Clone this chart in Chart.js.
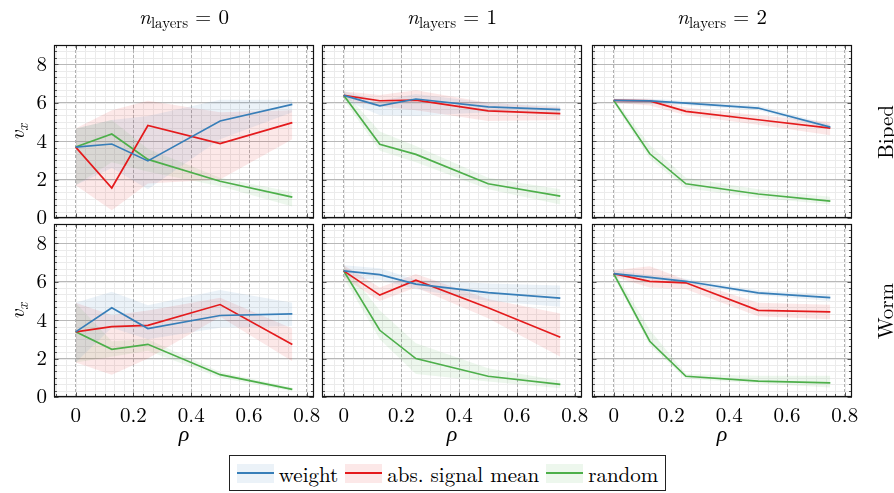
<!DOCTYPE html>
<html><head><meta charset="utf-8">
<script src="https://cdn.jsdelivr.net/npm/chart.js@4.4.0/dist/chart.umd.min.js"></script>
<style>
html,body{margin:0;padding:0;background:#fff;width:894px;height:493px;overflow:hidden;}
#wrap{position:relative;width:894px;height:493px;color:#000;}
canvas{position:absolute;}
.ctitle{position:absolute;top:2px;width:260px;text-align:center;font-size:21px;white-space:nowrap;line-height:26px;}
.ctitle sub{font-size:15px;vertical-align:-4px;line-height:0;font-style:normal;}
.rot{position:absolute;width:140px;height:26px;line-height:26px;text-align:center;font-size:21px;transform:rotate(-90deg);white-space:nowrap;}
.rot sub{font-size:15px;vertical-align:-4px;line-height:0;}
#legend{position:absolute;left:229px;top:455px;width:437px;height:36px;border:1px solid #222;box-sizing:border-box;display:flex;align-items:center;justify-content:center;font-size:21px;}
.sw{position:relative;width:37px;height:19px;margin-right:5px;}
.sw i{position:absolute;left:0;right:0;top:8px;height:2px;}
.ent{display:flex;align-items:center;margin-right:7px;white-space:nowrap;}
.ent:last-child{margin-right:0;}
</style></head>
<body><div id="wrap" style="font-family:'Latin Modern Roman','Liberation Serif',serif;"></div>
<script>
// ---------- data ----------
const rho = [0, 0.125, 0.25, 0.5, 0.75];
const xTicks = [0, 0.2, 0.4, 0.6, 0.8];
const yTicks = [0, 2, 4, 6, 8];
const seriesNames = ['weight', 'abs. signal mean', 'random'];
const seriesColors = ['#377eb8', '#e41a1c', '#4daf4a'];
const seriesFills = ['rgba(55,126,184,0.10)', 'rgba(228,26,28,0.10)', 'rgba(77,175,74,0.10)'];
const robotNames = ['Biped', 'Worm'];
const layerCounts = [0, 1, 2];

// Biped, n_layers = 0
const biped0Weight    = [3.69, 3.85, 2.97, 5.05, 5.91];
const biped0WeightLo  = [1.70, 2.60, 1.50, 4.10, 5.50];
const biped0WeightHi  = [4.65, 5.10, 5.30, 6.15, 6.15];
const biped0Abs       = [3.69, 1.56, 4.81, 3.87, 4.96];
const biped0AbsLo     = [1.70, 0.40, 1.80, 2.00, 4.10];
const biped0AbsHi     = [4.65, 5.60, 6.10, 5.50, 5.60];
const biped0Random    = [3.69, 4.37, 3.05, 1.91, 1.09];
const biped0RandomLo  = [1.70, 2.90, 2.40, 1.65, 0.60];
const biped0RandomHi  = [4.65, 5.10, 3.60, 2.10, 1.35];
// Biped, n_layers = 1
const biped1Weight    = [6.38, 5.83, 6.19, 5.78, 5.64];
const biped1WeightLo  = [6.15, 5.35, 5.30, 5.50, 5.45];
const biped1WeightHi  = [6.60, 6.10, 6.45, 6.00, 5.85];
const biped1Abs       = [6.38, 6.10, 6.13, 5.57, 5.43];
const biped1AbsLo     = [6.15, 5.80, 5.60, 5.05, 5.10];
const biped1AbsHi     = [6.60, 6.40, 6.65, 6.00, 5.75];
const biped1Random    = [6.38, 3.83, 3.31, 1.78, 1.14];
const biped1RandomLo  = [6.15, 3.50, 2.90, 1.50, 0.70];
const biped1RandomHi  = [6.60, 4.50, 3.75, 2.10, 1.50];
// Biped, n_layers = 2
const biped2Weight    = [6.12, 6.09, 5.98, 5.72, 4.73];
const biped2WeightLo  = [6.00, 5.95, 5.85, 5.60, 4.60];
const biped2WeightHi  = [6.20, 6.20, 6.10, 5.85, 4.85];
const biped2Abs       = [6.12, 6.09, 5.55, 5.11, 4.68];
const biped2AbsLo     = [6.00, 5.85, 5.35, 4.85, 4.30];
const biped2AbsHi     = [6.20, 6.20, 5.75, 5.35, 5.00];
const biped2Random    = [6.12, 3.34, 1.78, 1.25, 0.88];
const biped2RandomLo  = [6.00, 3.10, 1.55, 1.05, 0.70];
const biped2RandomHi  = [6.20, 3.80, 2.10, 1.50, 1.10];
// Worm, n_layers = 0
const worm0Weight     = [3.39, 4.64, 3.56, 4.24, 4.32];
const worm0WeightLo   = [1.80, 3.60, 3.00, 3.60, 3.70];
const worm0WeightHi   = [4.90, 5.47, 4.77, 5.56, 4.90];
const worm0Abs        = [3.39, 3.66, 3.73, 4.81, 2.73];
const worm0AbsLo      = [1.80, 1.16, 2.00, 4.17, 1.86];
const worm0AbsHi      = [4.90, 4.25, 4.50, 5.16, 3.56];
const worm0Random     = [3.39, 2.48, 2.74, 1.16, 0.40];
const worm0RandomLo   = [1.80, 2.10, 2.40, 1.00, 0.30];
const worm0RandomHi   = [4.90, 2.90, 3.00, 1.30, 0.50];
// Worm, n_layers = 1
const worm1Weight     = [6.56, 6.37, 5.87, 5.43, 5.14];
const worm1WeightLo   = [6.20, 6.10, 5.60, 5.00, 4.70];
const worm1WeightHi   = [6.85, 6.70, 6.10, 5.90, 5.80];
const worm1Abs        = [6.56, 5.30, 6.08, 4.64, 3.11];
const worm1AbsLo      = [6.20, 5.00, 5.70, 4.10, 2.10];
const worm1AbsHi      = [6.85, 5.70, 6.40, 5.10, 4.35];
const worm1Random     = [6.56, 3.47, 2.00, 1.08, 0.66];
const worm1RandomLo   = [6.20, 3.00, 1.20, 0.80, 0.45];
const worm1RandomHi   = [6.85, 4.50, 2.80, 1.50, 0.85];
// Worm, n_layers = 2
const worm2Weight     = [6.42, 6.22, 6.02, 5.42, 5.17];
const worm2WeightLo   = [6.25, 6.10, 5.90, 5.30, 5.00];
const worm2WeightHi   = [6.60, 6.35, 6.15, 5.55, 5.35];
const worm2Abs        = [6.42, 6.02, 5.94, 4.51, 4.43];
const worm2AbsLo      = [6.25, 5.70, 5.60, 4.20, 4.05];
const worm2AbsHi      = [6.60, 6.80, 6.10, 4.90, 4.80];
const worm2Random     = [6.42, 2.90, 1.08, 0.83, 0.73];
const worm2RandomLo   = [6.25, 2.70, 0.95, 0.70, 0.50];
const worm2RandomHi   = [6.60, 3.50, 1.20, 1.10, 1.10];

const panels = [
  {row:0, col:0, mean:[biped0Weight, biped0Abs, biped0Random], lo:[biped0WeightLo, biped0AbsLo, biped0RandomLo], hi:[biped0WeightHi, biped0AbsHi, biped0RandomHi]},
  {row:0, col:1, mean:[biped1Weight, biped1Abs, biped1Random], lo:[biped1WeightLo, biped1AbsLo, biped1RandomLo], hi:[biped1WeightHi, biped1AbsHi, biped1RandomHi]},
  {row:0, col:2, mean:[biped2Weight, biped2Abs, biped2Random], lo:[biped2WeightLo, biped2AbsLo, biped2RandomLo], hi:[biped2WeightHi, biped2AbsHi, biped2RandomHi]},
  {row:1, col:0, mean:[worm0Weight, worm0Abs, worm0Random], lo:[worm0WeightLo, worm0AbsLo, worm0RandomLo], hi:[worm0WeightHi, worm0AbsHi, worm0RandomHi]},
  {row:1, col:1, mean:[worm1Weight, worm1Abs, worm1Random], lo:[worm1WeightLo, worm1AbsLo, worm1RandomLo], hi:[worm1WeightHi, worm1AbsHi, worm1RandomHi]},
  {row:1, col:2, mean:[worm2Weight, worm2Abs, worm2Random], lo:[worm2WeightLo, worm2AbsLo, worm2RandomLo], hi:[worm2WeightHi, worm2AbsHi, worm2RandomHi]}
];

// ---------- layout ----------
const FONT = "'Latin Modern Roman', 'Liberation Serif', serif";
Chart.defaults.font.family = FONT;
const W = 260, H = 173;
const colLefts = [54, 322, 592];
const rowTops = [45, 224];
const X_MIN = -0.075, X_MAX = 0.825, Y_MIN = 0, Y_MAX = 9;
const wrap = document.getElementById('wrap');

const framePlugin = {
  id: 'frame',
  beforeDraw(chart) {
    const {ctx, chartArea: a, scales} = chart;
    const xs = scales.x, ys = scales.y;
    ctx.save();
    ctx.strokeStyle = '#ebebeb';
    ctx.lineWidth = 1;
    const xStep = 0.2 / 6, yStep = 2 / 6;
    for (let k = Math.ceil(X_MIN / xStep); k * xStep <= X_MAX + 1e-9; k++) {
      const px = Math.round(xs.getPixelForValue(k * xStep)) + 0.5;
      ctx.beginPath(); ctx.moveTo(px, a.top); ctx.lineTo(px, a.bottom); ctx.stroke();
    }
    for (let k = Math.ceil(Y_MIN / yStep); k * yStep <= Y_MAX + 1e-9; k++) {
      const py = Math.round(ys.getPixelForValue(k * yStep)) + 0.5;
      ctx.beginPath(); ctx.moveTo(a.left, py); ctx.lineTo(a.right, py); ctx.stroke();
    }
    ctx.restore();
  },
  afterDraw(chart) {
    const {ctx, chartArea: a, scales} = chart;
    const xs = scales.x, ys = scales.y;
    ctx.save();
    ctx.strokeStyle = '#444';
    ctx.lineWidth = 0.9;
    const xStep = 0.2 / 6, yStep = 2 / 6;
    for (let k = Math.ceil(X_MIN / xStep); k * xStep <= X_MAX + 1e-9; k++) {
      const major = (k % 6 === 0);
      const len = major ? 4.5 : 3;
      const px = Math.round(xs.getPixelForValue(k * xStep)) + 0.5;
      ctx.beginPath();
      ctx.moveTo(px, a.bottom); ctx.lineTo(px, a.bottom - len);
      ctx.moveTo(px, a.top); ctx.lineTo(px, a.top + len);
      ctx.stroke();
    }
    for (let k = Math.ceil(Y_MIN / yStep); k * yStep <= Y_MAX + 1e-9; k++) {
      const major = (k % 6 === 0);
      const len = major ? 4.5 : 3;
      const py = Math.round(ys.getPixelForValue(k * yStep)) + 0.5;
      ctx.beginPath();
      ctx.moveTo(a.left, py); ctx.lineTo(a.left + len, py);
      ctx.moveTo(a.right, py); ctx.lineTo(a.right - len, py);
      ctx.stroke();
    }
    ctx.strokeStyle = '#111';
    ctx.lineWidth = 1.2;
    ctx.strokeRect(a.left + 0.5, a.top + 0.5, a.right - a.left - 1, a.bottom - a.top - 1);
    ctx.restore();
  }
};

function makePanel(p) {
  const padL = p.col === 0 ? 2 : 14, padR = 14, padT = 14;
  const yW = p.col === 0 ? 52 : 0;
  const xH = p.row === 1 ? 56 : 0;
  const padB = p.row === 1 ? 0 : 14;
  const cw = padL + yW + W + padR, ch = padT + H + xH + padB;
  const cv = document.createElement('canvas');
  cv.width = cw; cv.height = ch;
  cv.style.width = cw + 'px'; cv.style.height = ch + 'px';
  cv.style.left = (colLefts[p.col] - yW - padL) + 'px';
  cv.style.top = (rowTops[p.row] - padT) + 'px';
  wrap.appendChild(cv);

  const datasets = [];
  seriesNames.forEach((name, s) => {
    datasets.push({
      label: name,
      data: rho.map((r, i) => ({x: r, y: p.mean[s][i]})),
      borderColor: seriesColors[s], borderWidth: 1.7, pointRadius: 0,
      fill: false, tension: 0, order: 0
    });
  });
  seriesNames.forEach((name, s) => {
    datasets.push({
      label: name + ' lo',
      data: rho.map((r, i) => ({x: r, y: p.lo[s][i]})),
      borderColor: 'rgba(0,0,0,0)', borderWidth: 0, pointRadius: 0,
      fill: false, tension: 0, order: 1
    });
    datasets.push({
      label: name + ' hi',
      data: rho.map((r, i) => ({x: r, y: p.hi[s][i]})),
      borderColor: 'rgba(0,0,0,0)', borderWidth: 0, pointRadius: 0,
      backgroundColor: seriesFills[s],
      fill: '-1', tension: 0, order: 1
    });
  });

  new Chart(cv, {
    type: 'line',
    data: {datasets},
    options: {
      responsive: false, animation: false, devicePixelRatio: 1,
      layout: {padding: {left: padL, right: padR, top: padT, bottom: padB}},
      plugins: {legend: {display: false}, tooltip: {enabled: false}, title: {display: false}},
      scales: {
        x: {
          type: 'linear', min: X_MIN, max: X_MAX,
          afterBuildTicks: s => { s.ticks = xTicks.map(v => ({value: v})); },
          afterFit: s => { s.height = xH; s.paddingLeft = 0; s.paddingRight = 0; },
          ticks: {display: p.row === 1, autoSkip: false, maxRotation: 0, padding: 6,
                  color: '#000', font: {family: FONT, size: 21}, callback: v => String(v)},
          grid: {color: '#b0b0b0', lineWidth: 1, drawTicks: false},
          border: {display: false, dash: [3, 2]},
          title: {display: p.row === 1, text: 'ρ', color: '#000',
                  font: {family: FONT, size: 22, style: 'italic'}, padding: {top: 0, bottom: 6}}
        },
        y: {
          type: 'linear', min: Y_MIN, max: Y_MAX,
          afterBuildTicks: s => { s.ticks = yTicks.map(v => ({value: v})); },
          afterFit: s => { s.width = yW; s.paddingTop = 0; s.paddingBottom = 0; },
          ticks: {display: p.col === 0, padding: 7, color: '#000',
                  font: {family: FONT, size: 21}, callback: v => String(v)},
          grid: {color: '#b8b8b8', lineWidth: 1, drawTicks: false},
          border: {display: false}
        }
      }
    },
    plugins: [framePlugin]
  });
}

function build() {
  panels.forEach(makePanel);
  // column titles
  layerCounts.forEach((n, c) => {
    const d = document.createElement('div');
    d.className = 'ctitle';
    d.style.left = colLefts[c] + 'px';
    d.style.fontFamily = FONT;
    d.innerHTML = '<i>n</i><sub>layers</sub> = ' + n;
    wrap.appendChild(d);
  });
  // row labels (right) and y-axis titles (left)
  robotNames.forEach((name, r) => {
    const cy = rowTops[r] + H / 2;
    const d = document.createElement('div');
    d.className = 'rot';
    d.style.fontFamily = FONT;
    d.style.left = (884 - 70) + 'px';
    d.style.top = (cy - 13) + 'px';
    d.textContent = name;
    wrap.appendChild(d);
    const v = document.createElement('div');
    v.className = 'rot';
    v.style.fontFamily = FONT;
    v.style.left = (15 - 70) + 'px';
    v.style.top = (cy - 13) + 'px';
    v.innerHTML = '<i>v</i><sub><i>x</i></sub>';
    wrap.appendChild(v);
  });
  // legend
  const leg = document.createElement('div');
  leg.id = 'legend';
  leg.style.fontFamily = FONT;
  seriesNames.forEach((name, s) => {
    const e = document.createElement('div');
    e.className = 'ent';
    e.innerHTML = '<span class="sw" style="background:' + seriesFills[s] + '"><i style="background:' + seriesColors[s] + '"></i></span><span>' + name + '</span>';
    leg.appendChild(e);
  });
  wrap.appendChild(leg);
}
if (document.fonts && document.fonts.load) {
  Promise.all([
    document.fonts.load("21px 'Latin Modern Roman'"),
    document.fonts.load("italic 21px 'Latin Modern Roman'")
  ]).then(build, build);
} else { build(); }
</script>
</body></html>
